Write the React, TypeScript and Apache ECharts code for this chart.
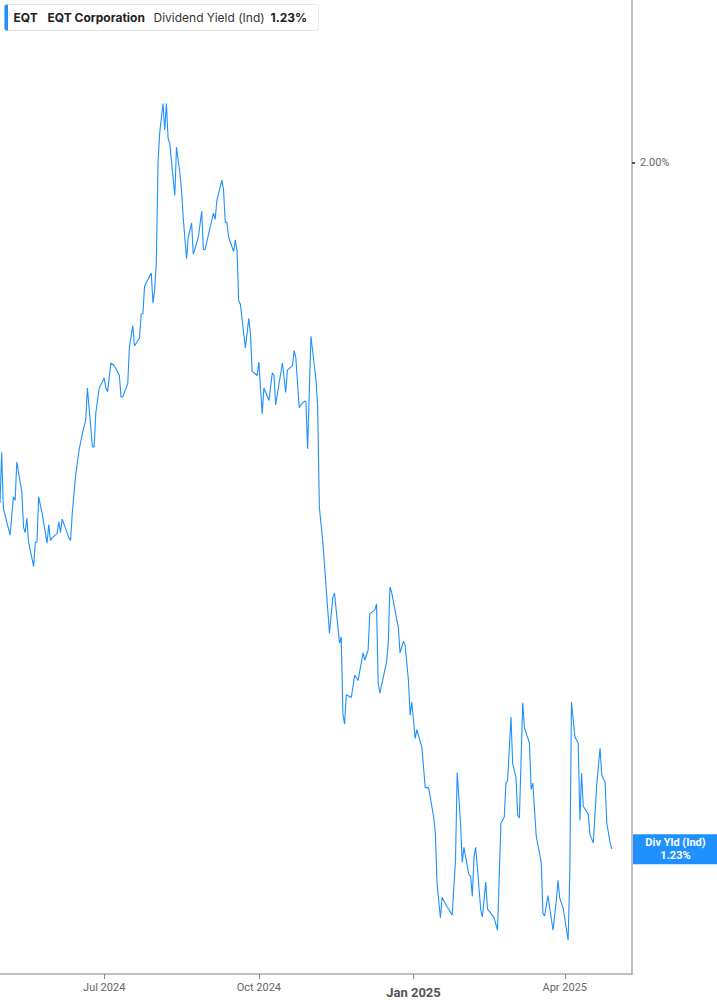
import React, { useEffect, useRef } from "react";
import * as echarts from "echarts";

const dates: string[] = [
  "2024-04-30","2024-05-01","2024-05-02","2024-05-06","2024-05-08","2024-05-09","2024-05-10","2024-05-13","2024-05-14","2024-05-15",
  "2024-05-16","2024-05-17","2024-05-20","2024-05-21","2024-05-22","2024-05-23","2024-05-25","2024-05-28","2024-05-29","2024-05-30",
  "2024-05-31","2024-06-03","2024-06-04","2024-06-05","2024-06-06","2024-06-10","2024-06-11","2024-06-12","2024-06-14","2024-06-16",
  "2024-06-18","2024-06-20","2024-06-21","2024-06-24","2024-06-25","2024-06-26","2024-06-28","2024-07-01","2024-07-02","2024-07-03",
  "2024-07-05","2024-07-07","2024-07-10","2024-07-11","2024-07-12","2024-07-15","2024-07-16","2024-07-18","2024-07-19","2024-07-22",
  "2024-07-23","2024-07-24","2024-07-25","2024-07-29","2024-07-30","2024-07-31","2024-08-01","2024-08-02","2024-08-03","2024-08-05",
  "2024-08-06","2024-08-07","2024-08-08","2024-08-09","2024-08-12","2024-08-13","2024-08-15","2024-08-16","2024-08-17","2024-08-19",
  "2024-08-20","2024-08-22","2024-08-23","2024-08-26","2024-08-28","2024-08-29","2024-08-30","2024-09-02","2024-09-04","2024-09-05",
  "2024-09-06","2024-09-09","2024-09-10","2024-09-11","2024-09-12","2024-09-13","2024-09-16","2024-09-17","2024-09-18","2024-09-19",
  "2024-09-20","2024-09-23","2024-09-25","2024-09-26","2024-09-27","2024-09-30","2024-10-01","2024-10-03","2024-10-04","2024-10-07",
  "2024-10-09","2024-10-10","2024-10-11","2024-10-15","2024-10-17","2024-10-18","2024-10-21","2024-10-22","2024-10-23","2024-10-25",
  "2024-10-26","2024-10-28","2024-10-29","2024-10-30","2024-11-01","2024-11-04","2024-11-05","2024-11-06","2024-11-08","2024-11-12",
  "2024-11-14","2024-11-15","2024-11-18","2024-11-19","2024-11-20","2024-11-21","2024-11-22","2024-11-25","2024-11-27","2024-11-29",
  "2024-12-02","2024-12-03","2024-12-05","2024-12-06","2024-12-09","2024-12-10","2024-12-11","2024-12-12","2024-12-16","2024-12-17",
  "2024-12-18","2024-12-19","2024-12-23","2024-12-24","2024-12-26","2024-12-27","2024-12-29","2024-12-30","2024-12-31","2025-01-02",
  "2025-01-03","2025-01-06","2025-01-08","2025-01-10","2025-01-13","2025-01-14","2025-01-15","2025-01-17","2025-01-18","2025-01-21",
  "2025-01-22","2025-01-24","2025-01-26","2025-01-27","2025-01-29","2025-01-30","2025-01-31","2025-02-03","2025-02-04","2025-02-05",
  "2025-02-06","2025-02-07","2025-02-08","2025-02-10","2025-02-11","2025-02-13","2025-02-14","2025-02-18","2025-02-20","2025-02-22",
  "2025-02-24","2025-02-25","2025-02-26","2025-02-28","2025-03-01","2025-03-03","2025-03-04","2025-03-05","2025-03-07","2025-03-08",
  "2025-03-11","2025-03-12","2025-03-13","2025-03-15","2025-03-18","2025-03-19","2025-03-20","2025-03-22","2025-03-25","2025-03-27",
  "2025-03-28","2025-03-29","2025-03-31","2025-04-03","2025-04-04","2025-04-05","2025-04-07","2025-04-09","2025-04-10","2025-04-11",
  "2025-04-12","2025-04-15","2025-04-16","2025-04-18","2025-04-20","2025-04-22","2025-04-23","2025-04-25","2025-04-26","2025-04-28",
  "2025-04-29"
];

const yieldPct: number[] = [
  1.618,1.675,1.612,1.582,1.625,1.621,1.664,1.630,1.591,1.585,
  1.601,1.574,1.547,1.574,1.574,1.625,1.607,1.573,1.594,1.576,
  1.579,1.584,1.597,1.585,1.600,1.579,1.576,1.607,1.649,1.677,
  1.696,1.711,1.747,1.681,1.681,1.719,1.747,1.758,1.747,1.743,
  1.775,1.772,1.761,1.737,1.737,1.752,1.793,1.817,1.794,1.803,
  1.830,1.830,1.861,1.876,1.842,1.857,1.887,1.999,2.033,2.066,
  2.036,2.066,2.027,2.021,1.963,2.017,1.988,1.969,1.938,1.892,
  1.916,1.932,1.897,1.916,1.945,1.902,1.902,1.927,1.943,1.936,
  1.957,1.980,1.969,1.933,1.933,1.916,1.900,1.913,1.901,1.845,
  1.841,1.792,1.825,1.808,1.766,1.761,1.776,1.718,1.747,1.733,
  1.764,1.761,1.728,1.775,1.742,1.767,1.772,1.789,1.781,1.725,
  1.728,1.732,1.732,1.679,1.805,1.756,1.725,1.613,1.576,1.472,
  1.512,1.517,1.461,1.468,1.382,1.370,1.403,1.400,1.425,1.419,
  1.450,1.442,1.453,1.494,1.498,1.505,1.416,1.405,1.440,1.462,
  1.524,1.518,1.478,1.450,1.463,1.459,1.419,1.380,1.395,1.354,
  1.364,1.344,1.299,1.299,1.266,1.248,1.192,1.153,1.176,1.165,
  1.163,1.156,1.218,1.316,1.259,1.215,1.232,1.201,1.200,1.177,
  1.221,1.232,1.210,1.162,1.154,1.193,1.163,1.153,1.139,1.259,
  1.266,1.304,1.307,1.378,1.326,1.310,1.268,1.265,1.394,1.366,
  1.349,1.297,1.304,1.245,1.215,1.158,1.155,1.178,1.139,1.173,
  1.195,1.175,1.164,1.128,1.203,1.395,1.356,1.349,1.262,1.315,
  1.278,1.269,1.246,1.237,1.302,1.343,1.313,1.305,1.259,1.237,
  1.230
];

const xTickDates: string[] = ["2024-07-01", "2024-10-01", "2025-01-01", "2025-04-01"];
const yTickValues: number[] = [2.0];
const xMin = "2024-04-30";
const xMax = "2025-05-11";
const yMin = 1.09;
const yMax = 2.182;

const ticker = "EQT";
const companyName = "EQT Corporation";
const metricName = "Dividend Yield (Ind)";
const endLabelName = "Div Yld (Ind)";

const BLUE = "#1e90ff";
const MONTHS = ["Jan","Feb","Mar","Apr","May","Jun","Jul","Aug","Sep","Oct","Nov","Dec"];

function parseDate(s: string): number {
  const [y, m, d] = s.split("-").map(Number);
  return new Date(y, m - 1, d).getTime();
}

export default function App() {
  const ref = useRef<HTMLDivElement>(null);

  useEffect(() => {
    if (!ref.current) return;
    const chart = echarts.init(ref.current, null, { renderer: "svg" });
    const seriesData = dates.map((d, i) => [parseDate(d), yieldPct[i]]);
    const last = yieldPct[yieldPct.length - 1];
    const tickTs = xTickDates.map(parseDate);

    chart.setOption({
      animation: false,
      backgroundColor: "#ffffff",
      grid: { left: 0, right: 85, top: 0, bottom: 31, containLabel: false },
      xAxis: {
        type: "value",
        min: parseDate(xMin),
        max: parseDate(xMax),
        axisLine: { show: true, lineStyle: { color: "#aaaaaa", width: 1.5 } },
        axisTick: {
          show: true,
          customValues: tickTs,
          length: 5,
          lineStyle: { color: "#888888" },
        },
        axisLabel: {
          show: true,
          customValues: tickTs,
          margin: 8,
          color: "#666666",
          fontFamily: "Roboto",
          fontSize: 11,
          formatter: (v: number) => {
            const dt = new Date(v);
            const txt = MONTHS[dt.getMonth()] + " " + dt.getFullYear();
            return dt.getMonth() === 0 ? "{b|" + txt + "}" : txt;
          },
          rich: {
            b: { fontWeight: "bold", fontSize: 13, color: "#555555", fontFamily: "Roboto", padding: [4, 0, 0, 0] },
          },
        },
        splitLine: { show: false },
      },
      yAxis: {
        type: "value",
        position: "right",
        min: yMin,
        max: yMax,
        axisLine: { show: true, lineStyle: { color: "#aaaaaa", width: 1.5 } },
        axisTick: {
          show: true,
          customValues: yTickValues,
          length: 3,
          lineStyle: { color: "#555555", width: 2 },
        },
        axisLabel: {
          show: true,
          customValues: yTickValues,
          margin: 8,
          color: "#666666",
          fontFamily: "Roboto",
          fontSize: 11,
          formatter: (v: number) => v.toFixed(2) + "%",
        },
        splitLine: { show: false },
      },
      series: [
        {
          type: "line",
          data: seriesData,
          showSymbol: false,
          symbol: "none",
          lineStyle: { color: BLUE, width: 1.1 },
          itemStyle: { color: BLUE },
          markLine: {
            silent: true,
            symbol: ["none", "none"],
            lineStyle: { color: "rgba(0,0,0,0)", width: 1, type: "solid" },
            emphasis: { disabled: true },
            data: [{ yAxis: last }],
            label: {
              show: true,
              position: "end",
              distance: 1,
              backgroundColor: BLUE,
              padding: [2, 4, 2, 4],
              opacity: 1,
              formatter: () => "{a|" + endLabelName + "}\n{a|" + last.toFixed(2) + "%}",
              rich: {
                a: {
                  width: 77,
                  align: "center",
                  color: "#ffffff",
                  fontWeight: "bold",
                  fontSize: 11,
                  lineHeight: 13,
                  fontFamily: "Roboto",
                },
              },
            },
          },
        },
      ],
      graphic: [
        {
          type: "group",
          left: 4,
          top: 4,
          children: [
            {
              type: "rect",
              shape: { x: 0, y: 0, width: 314, height: 26, r: 3 },
              style: { fill: "#ffffff", stroke: "#e6e6e6", lineWidth: 1 },
            },
            {
              type: "rect",
              shape: { x: 0, y: 0, width: 3.5, height: 26, r: [2, 0, 0, 2] },
              style: { fill: BLUE },
            },
            {
              type: "text",
              x: 9,
              y: 13,
              style: { text: ticker, fill: "#222222", font: "bold 12px Inter", textVerticalAlign: "middle" },
            },
            {
              type: "text",
              x: 43,
              y: 13,
              style: { text: companyName, fill: "#222222", font: "bold 12px Inter", textVerticalAlign: "middle" },
            },
            {
              type: "text",
              x: 149,
              y: 13,
              style: { text: metricName, fill: "#333333", font: "12px Inter", textVerticalAlign: "middle" },
            },
            {
              type: "text",
              x: 266,
              y: 13,
              style: { text: last.toFixed(2) + "%", fill: "#222222", font: "bold 12px Inter", textVerticalAlign: "middle" },
            },
          ],
        },
      ],
    });

    return () => chart.dispose();
  }, []);

  return (
    <div
      ref={ref}
      style={{ position: "absolute", left: 0, top: 0, width: 717, height: 1005, background: "#fff" }}
    />
  );
}
